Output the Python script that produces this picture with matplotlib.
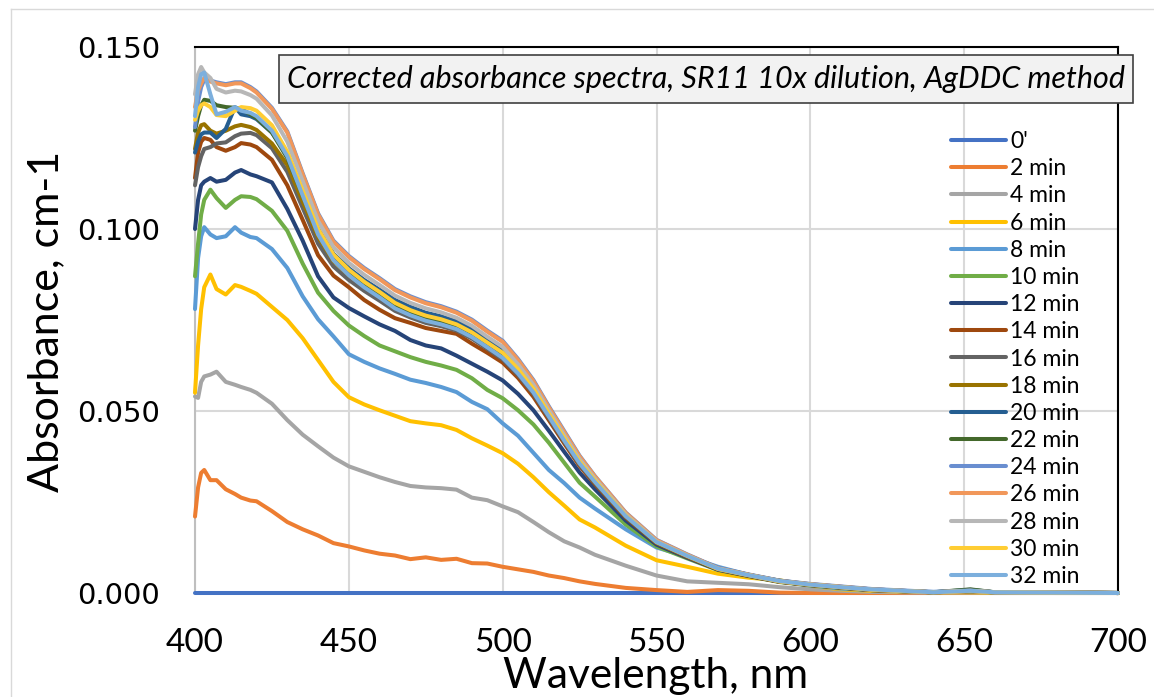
import matplotlib
matplotlib.use("Agg")
import matplotlib.pyplot as plt
from matplotlib.patches import Rectangle
from matplotlib.lines import Line2D

# Wavelength grid (nm)
wavelength = [400, 401, 402, 403, 405, 407, 410, 413, 415, 418, 420, 425, 430,
              435, 440, 445, 450, 455, 460, 465, 470, 475, 480, 485, 490, 495,
              500, 505, 510, 515, 520, 525, 530, 540, 550, 560, 570, 580, 590,
              600, 610, 620, 640, 652, 660, 680, 700]

labels = ["0'", "2 min", "4 min", "6 min", "8 min", "10 min", "12 min", "14 min",
          "16 min", "18 min", "20 min", "22 min", "24 min", "26 min", "28 min",
          "30 min", "32 min"]

colors = ["#4472C4", "#ED7D31", "#A5A5A5", "#FFC000", "#5B9BD5", "#70AD47",
          "#264478", "#9E480E", "#636363", "#997300", "#255E91", "#43682B",
          "#698ED0", "#F1975A", "#B7B7B7", "#FFCD33", "#7CAFDD"]

# Corrected absorbance (cm-1) for each reaction time
abs_0 = [0.0] * 47
abs_2 = [0.0210, 0.0290, 0.0330, 0.0338, 0.0310, 0.0310, 0.0285, 0.0272, 0.0262, 0.0254, 0.0252, 0.0225, 0.0195,
         0.0175, 0.0158, 0.0137, 0.0128, 0.0117, 0.0108, 0.0103, 0.0093, 0.0098, 0.0091, 0.0094, 0.0082, 0.0081,
         0.0072, 0.0065, 0.0058, 0.0048, 0.0041, 0.0032, 0.0025, 0.0014, 0.0008, 0.0003, 0.0008, 0.0006, 0.0001,
         0.0000, 0.0000, 0.0000, 0.0000, 0.0000, 0.0000, 0.0000, 0.0000]
abs_4 = [0.0540, 0.0536, 0.0580, 0.0595, 0.0600, 0.0608, 0.0580, 0.0572, 0.0566, 0.0558, 0.0550, 0.0520, 0.0475,
         0.0435, 0.0403, 0.0372, 0.0348, 0.0333, 0.0318, 0.0305, 0.0294, 0.0290, 0.0288, 0.0284, 0.0262, 0.0255,
         0.0238, 0.0222, 0.0195, 0.0167, 0.0142, 0.0125, 0.0105, 0.0075, 0.0048, 0.0032, 0.0028, 0.0024, 0.0016,
         0.0010, 0.0006, 0.0003, 0.0001, 0.0001, 0.0000, 0.0000, 0.0000]
abs_6 = [0.0550, 0.0680, 0.0780, 0.0840, 0.0875, 0.0835, 0.0820, 0.0846, 0.0841, 0.0830, 0.0822, 0.0786, 0.0750,
         0.0700, 0.0640, 0.0580, 0.0538, 0.0518, 0.0502, 0.0487, 0.0472, 0.0466, 0.0461, 0.0448, 0.0425, 0.0405,
         0.0384, 0.0355, 0.0318, 0.0277, 0.0240, 0.0202, 0.0180, 0.0130, 0.0090, 0.0072, 0.0053, 0.0042, 0.0035,
         0.0020, 0.0010, 0.0006, 0.0002, 0.0002, 0.0001, 0.0000, 0.0000]
abs_8 = [0.0780, 0.0920, 0.0980, 0.1005, 0.0985, 0.0975, 0.0980, 0.1005, 0.0990, 0.0978, 0.0975, 0.0945, 0.0893,
         0.0815, 0.0752, 0.0705, 0.0656, 0.0635, 0.0617, 0.0602, 0.0586, 0.0577, 0.0566, 0.0552, 0.0525, 0.0505,
         0.0466, 0.0432, 0.0385, 0.0338, 0.0302, 0.0262, 0.0232, 0.0175, 0.0125, 0.0100, 0.0072, 0.0050, 0.0032,
         0.0020, 0.0012, 0.0008, 0.0003, 0.0004, 0.0002, 0.0001, 0.0000]
abs_10 = [0.0870, 0.0960, 0.1040, 0.1080, 0.1108, 0.1085, 0.1058, 0.1080, 0.1090, 0.1088, 0.1082, 0.1050, 0.0995,
          0.0905, 0.0825, 0.0775, 0.0735, 0.0706, 0.0680, 0.0664, 0.0648, 0.0635, 0.0625, 0.0613, 0.0590, 0.0558,
          0.0535, 0.0502, 0.0463, 0.0413, 0.0358, 0.0303, 0.0265, 0.0188, 0.0128, 0.0095, 0.0063, 0.0046, 0.0030,
          0.0021, 0.0014, 0.0008, 0.0002, 0.0005, 0.0002, 0.0001, 0.0000]
abs_12 = [0.1000, 0.1080, 0.1120, 0.1130, 0.1140, 0.1130, 0.1135, 0.1155, 0.1162, 0.1150, 0.1145, 0.1128, 0.1055,
          0.0968, 0.0870, 0.0812, 0.0783, 0.0760, 0.0738, 0.0720, 0.0695, 0.0680, 0.0672, 0.0652, 0.0630, 0.0608,
          0.0584, 0.0547, 0.0502, 0.0446, 0.0388, 0.0331, 0.0285, 0.0199, 0.0133, 0.0097, 0.0064, 0.0047, 0.0031,
          0.0022, 0.0015, 0.0008, 0.0002, 0.0005, 0.0002, 0.0001, 0.0000]
abs_14 = [0.1140, 0.1210, 0.1240, 0.1250, 0.1245, 0.1225, 0.1215, 0.1225, 0.1236, 0.1232, 0.1225, 0.1190, 0.1120,
          0.1025, 0.0928, 0.0872, 0.0840, 0.0805, 0.0778, 0.0755, 0.0742, 0.0728, 0.0720, 0.0712, 0.0685, 0.0660,
          0.0633, 0.0591, 0.0539, 0.0475, 0.0411, 0.0349, 0.0299, 0.0207, 0.0137, 0.0099, 0.0065, 0.0047, 0.0031,
          0.0022, 0.0015, 0.0008, 0.0002, 0.0005, 0.0002, 0.0001, 0.0000]
abs_16 = [0.1120, 0.1170, 0.1200, 0.1220, 0.1225, 0.1235, 0.1238, 0.1255, 0.1262, 0.1264, 0.1258, 0.1222, 0.1157,
          0.1058, 0.0960, 0.0897, 0.0860, 0.0830, 0.0803, 0.0775, 0.0757, 0.0742, 0.0733, 0.0721, 0.0699, 0.0671,
          0.0642, 0.0599, 0.0547, 0.0481, 0.0416, 0.0353, 0.0302, 0.0209, 0.0138, 0.0100, 0.0066, 0.0048, 0.0032,
          0.0022, 0.0015, 0.0009, 0.0002, 0.0006, 0.0002, 0.0001, 0.0000]
abs_18 = [0.1220, 0.1265, 0.1285, 0.1288, 0.1270, 0.1262, 0.1270, 0.1282, 0.1286, 0.1280, 0.1272, 0.1235, 0.1176,
          0.1075, 0.0978, 0.0912, 0.0873, 0.0843, 0.0816, 0.0787, 0.0768, 0.0753, 0.0743, 0.0730, 0.0708, 0.0680,
          0.0651, 0.0607, 0.0554, 0.0487, 0.0421, 0.0357, 0.0305, 0.0211, 0.0139, 0.0101, 0.0066, 0.0048, 0.0032,
          0.0022, 0.0015, 0.0009, 0.0002, 0.0006, 0.0002, 0.0001, 0.0000]
abs_20 = [0.1210, 0.1240, 0.1260, 0.1265, 0.1265, 0.1250, 0.1275, 0.1335, 0.1315, 0.1310, 0.1302, 0.1265, 0.1205,
          0.1102, 0.1000, 0.0932, 0.0892, 0.0860, 0.0833, 0.0805, 0.0786, 0.0770, 0.0760, 0.0746, 0.0724, 0.0694,
          0.0666, 0.0620, 0.0565, 0.0496, 0.0429, 0.0364, 0.0311, 0.0214, 0.0141, 0.0104, 0.0068, 0.0050, 0.0034,
          0.0024, 0.0017, 0.0010, 0.0002, 0.0009, 0.0002, 0.0001, 0.0000]
abs_22 = [0.1270, 0.1310, 0.1340, 0.1355, 0.1352, 0.1340, 0.1335, 0.1333, 0.1330, 0.1315, 0.1305, 0.1265, 0.1195,
          0.1092, 0.0990, 0.0922, 0.0882, 0.0850, 0.0822, 0.0792, 0.0772, 0.0757, 0.0747, 0.0734, 0.0712, 0.0684,
          0.0656, 0.0611, 0.0557, 0.0490, 0.0423, 0.0359, 0.0307, 0.0212, 0.0140, 0.0102, 0.0067, 0.0049, 0.0033,
          0.0023, 0.0016, 0.0010, 0.0002, 0.0010, 0.0002, 0.0001, 0.0000]
abs_24 = [0.1280, 0.1350, 0.1390, 0.1410, 0.1408, 0.1403, 0.1398, 0.1403, 0.1403, 0.1390, 0.1378, 0.1333, 0.1268,
          0.1153, 0.1043, 0.0968, 0.0926, 0.0893, 0.0865, 0.0835, 0.0815, 0.0799, 0.0788, 0.0773, 0.0751, 0.0721,
          0.0693, 0.0643, 0.0585, 0.0513, 0.0445, 0.0377, 0.0321, 0.0221, 0.0146, 0.0106, 0.0069, 0.0051, 0.0034,
          0.0025, 0.0018, 0.0011, 0.0003, 0.0007, 0.0002, 0.0001, 0.0000]
abs_26 = [0.1335, 0.1380, 0.1400, 0.1415, 0.1405, 0.1400, 0.1395, 0.1400, 0.1400, 0.1387, 0.1375, 0.1330, 0.1265,
          0.1150, 0.1040, 0.0965, 0.0923, 0.0890, 0.0862, 0.0832, 0.0812, 0.0796, 0.0785, 0.0770, 0.0748, 0.0718,
          0.0690, 0.0640, 0.0582, 0.0510, 0.0442, 0.0375, 0.0320, 0.0220, 0.0145, 0.0105, 0.0068, 0.0050, 0.0033,
          0.0024, 0.0017, 0.0010, 0.0002, 0.0006, 0.0002, 0.0001, 0.0000]
abs_28 = [0.1370, 0.1425, 0.1445, 0.1430, 0.1415, 0.1385, 0.1375, 0.1380, 0.1378, 0.1368, 0.1358, 0.1312, 0.1240,
          0.1132, 0.1022, 0.0950, 0.0907, 0.0874, 0.0846, 0.0817, 0.0797, 0.0782, 0.0771, 0.0756, 0.0734, 0.0704,
          0.0676, 0.0628, 0.0572, 0.0502, 0.0434, 0.0368, 0.0314, 0.0216, 0.0142, 0.0103, 0.0067, 0.0049, 0.0032,
          0.0023, 0.0016, 0.0009, 0.0002, 0.0006, 0.0002, 0.0001, 0.0000]
abs_30 = [0.1300, 0.1325, 0.1340, 0.1345, 0.1335, 0.1313, 0.1310, 0.1325, 0.1335, 0.1332, 0.1325, 0.1285, 0.1212,
          0.1105, 0.1000, 0.0930, 0.0888, 0.0855, 0.0827, 0.0797, 0.0777, 0.0762, 0.0752, 0.0738, 0.0716, 0.0688,
          0.0660, 0.0615, 0.0561, 0.0493, 0.0426, 0.0361, 0.0309, 0.0213, 0.0140, 0.0102, 0.0066, 0.0049, 0.0032,
          0.0023, 0.0016, 0.0009, 0.0002, 0.0005, 0.0002, 0.0001, 0.0000]
abs_32 = [0.1310, 0.1390, 0.1425, 0.1430, 0.1370, 0.1315, 0.1322, 0.1335, 0.1325, 0.1319, 0.1310, 0.1270, 0.1200,
          0.1092, 0.0985, 0.0914, 0.0873, 0.0840, 0.0812, 0.0782, 0.0763, 0.0748, 0.0738, 0.0725, 0.0703, 0.0675,
          0.0646, 0.0603, 0.0551, 0.0485, 0.0419, 0.0356, 0.0305, 0.0211, 0.0140, 0.0102, 0.0067, 0.0049, 0.0033,
          0.0023, 0.0016, 0.0010, 0.0002, 0.0006, 0.0002, 0.0001, 0.0000]

series = [abs_0, abs_2, abs_4, abs_6, abs_8, abs_10, abs_12, abs_14, abs_16,
          abs_18, abs_20, abs_22, abs_24, abs_26, abs_28, abs_30, abs_32]

x_ticks = [400, 450, 500, 550, 600, 650, 700]
y_ticks = [0.0, 0.05, 0.10, 0.15]
y_tick_labels = ["0.000", "0.050", "0.100", "0.150"]

W, H = 1154, 697
fig = plt.figure(figsize=(W / 100, H / 100), dpi=100)

# outer chart frame
fig.add_artist(Line2D([11 / W, 11 / W], [0, 1 - 9 / H], color="#d9d9d9", lw=1.0,
                      transform=fig.transFigure))
fig.add_artist(Line2D([11 / W, 1], [1 - 9 / H, 1 - 9 / H], color="#d9d9d9", lw=1.0,
                      transform=fig.transFigure))

ax = fig.add_axes([195 / W, 1 - 593 / H, (1118 - 195) / W, (593 - 47) / H])

for vals, lab, col in zip(series, labels, colors):
    ax.plot(wavelength, vals, color=col, lw=2.9, label=lab, zorder=3,
            solid_joinstyle="round", solid_capstyle="round", clip_on=False)

ax.set_xlim(400, 700)
ax.set_ylim(0, 0.15)
ax.set_xticks(x_ticks)
ax.set_xticklabels([str(v) for v in x_ticks], fontfamily="Lato", fontsize=24)
ax.set_yticks(y_ticks)
ax.set_yticklabels(y_tick_labels, fontfamily="DejaVu Sans", fontsize=21)
ax.tick_params(axis="both", length=0)
ax.tick_params(axis="x", pad=25)
ax.tick_params(axis="y", pad=25)
ax.grid(True, color="#d9d9d9", lw=1.5)
ax.set_axisbelow(True)

for side in ("top", "right"):
    ax.spines[side].set_color("black")
    ax.spines[side].set_linewidth(1.5)
ax.spines["left"].set_color("#bfbfbf")
ax.spines["left"].set_linewidth(1.5)
ax.spines["bottom"].set_color("#bfbfbf")
ax.spines["bottom"].set_linewidth(1.5)

fig.text(656 / W, 1 - 688 / H, "Wavelength, nm", fontfamily="Lato", fontsize=30.5,
         ha="center", va="baseline")
fig.text(46 / W, 1 - 321 / H, "Absorbance, cm-1", fontfamily="Lato", fontsize=31,
         ha="center", va="center", rotation=90)

# title box
fig.add_artist(Rectangle((279 / W, 1 - 103 / H), (1133 - 279) / W, 48 / H,
                         facecolor="#f2f2f2", edgecolor="#404040", lw=1.2,
                         transform=fig.transFigure, zorder=5))
fig.text(706 / W, 1 - 79 / H,
         "Corrected absorbance spectra, SR11 10x dilution, AgDDC method",
         fontfamily="Lato", fontstyle="italic", fontsize=22,
         ha="center", va="center", zorder=6)

ax.legend(loc="upper left", bbox_to_anchor=(951 / W, 1 - 131 / H),
          bbox_transform=fig.transFigure, frameon=False, borderpad=0,
          borderaxespad=0, handlelength=2.4, handletextpad=0.17,
          labelspacing=0.27, prop={"family": "Lato", "size": 16.5})

fig.savefig("out.png", dpi=100)
